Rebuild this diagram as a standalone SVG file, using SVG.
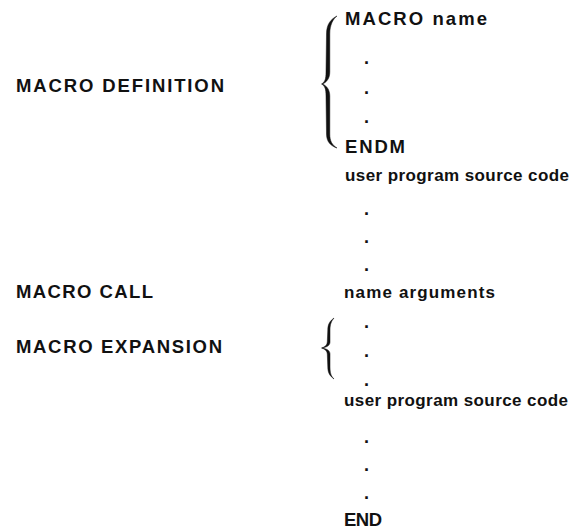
<svg xmlns="http://www.w3.org/2000/svg" width="582" height="531" viewBox="0 0 582 531">
<style>
  text { font-family: "Liberation Sans", Arial, Helvetica, sans-serif; font-weight: bold; font-size: 17px; fill: #111; }
  .big { font-size: 18.5px; }
  .dot { font-size: 18px; }
  .brace { fill: #111; stroke: #111; stroke-width: 0.5; }
</style>
<rect width="582" height="531" fill="#ffffff"/>
<g id="label-macro-definition"><text class="big" x="16" y="92" textLength="208" lengthAdjust="spacing">MACRO DEFINITION</text></g>
<g id="label-macro-call"><text class="big" x="16" y="298" textLength="137" lengthAdjust="spacing">MACRO CALL</text></g>
<g id="label-macro-expansion"><text class="big" x="16" y="353" textLength="206" lengthAdjust="spacing">MACRO EXPANSION</text></g>

<g id="code-listing">
  <text class="big" x="345" y="25" textLength="142" lengthAdjust="spacing">MACRO name</text>
  <text class="dot" x="364" y="64">.</text>
  <text class="dot" x="364" y="94">.</text>
  <text class="dot" x="364" y="123">.</text>
  <text class="big" x="345" y="153" textLength="60" lengthAdjust="spacing">ENDM</text>
  <text x="345" y="181" textLength="224" lengthAdjust="spacing">user program source code</text>
  <text class="dot" x="364" y="215">.</text>
  <text class="dot" x="364" y="243">.</text>
  <text class="dot" x="364" y="271">.</text>
  <text x="344" y="298" textLength="151" lengthAdjust="spacing">name arguments</text>
  <text class="dot" x="364" y="328">.</text>
  <text class="dot" x="364" y="357">.</text>
  <text class="dot" x="364" y="386">.</text>
  <text x="344" y="406" textLength="224" lengthAdjust="spacing">user program source code</text>
  <text class="dot" x="364" y="443">.</text>
  <text class="dot" x="364" y="471">.</text>
  <text class="dot" x="364" y="499">.</text>
  <text class="big" x="344" y="526" textLength="38" lengthAdjust="spacing">END</text>
</g>

<g id="braces">
  <path class="brace" d="M337,16 C331,19 326.5,24 326.5,34 L326,72 C326,79 325,82 321.5,84 C325,86 326,89 326,96 L326.5,134 C326.5,142 331,146 337,148 C332,145 329.8,141 329.8,134 L329.8,96 C329.8,90 327,86 322.5,84 C327,82 329.8,78 329.8,72 L329.8,34 C329.8,25 333,19 337,16 Z"/>
  <path class="brace" d="M334,318 C330,321 327.8,324 327.8,330 L327.3,342 C327.3,345 325,347 321.5,348 C325,349 327.3,351 327.3,354 L327.8,367 C327.8,373 330,376 334,379 C331,376 330,373 330,367 L330,354 C330,351 327.5,349 322.5,348 C327.5,347 330,345 330,342 L330,330 C330,324 331.5,321 334,318 Z"/>
</g>
</svg>
